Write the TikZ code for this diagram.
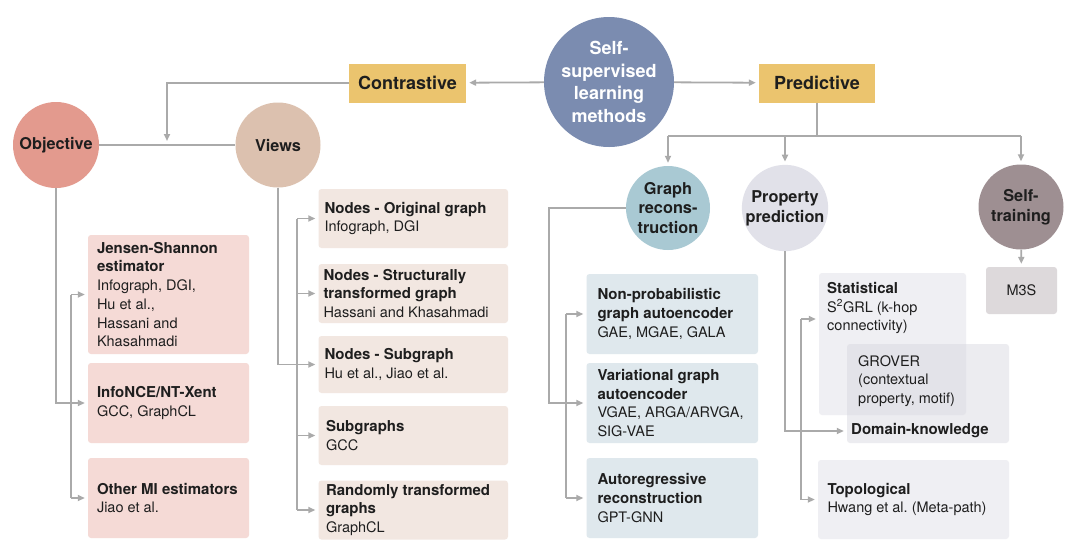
\documentclass[tikz,border=0pt]{standalone}
\usepackage{fontspec}
\setmainfont{TeX Gyre Heros}
\usetikzlibrary{arrows.meta}
\definecolor{sslc}{HTML}{7B8CB0}
\definecolor{topbox}{HTML}{EBC46E}
\definecolor{objc}{HTML}{E39A8E}
\definecolor{viewc}{HTML}{DCC1AF}
\definecolor{grc}{HTML}{A9C9D3}
\definecolor{ppc}{HTML}{E1E1E9}
\definecolor{stc}{HTML}{9E8F92}
\definecolor{objbox}{HTML}{F5DAD6}
\definecolor{viewbox}{HTML}{F2E7E1}
\definecolor{grbox}{HTML}{DFE8ED}
\definecolor{ppbox}{HTML}{EFEFF3}
\definecolor{grovbox}{HTML}{D6D6DE}
\definecolor{m3sbox}{HTML}{DDD9DB}
\definecolor{linec}{HTML}{AAAAAA}
\definecolor{txt}{HTML}{1E1E1E}
\newcommand\bhead[1]{{\fontsize{15}{18.7}\selectfont\bfseries #1}}
\frenchspacing
\begin{document}
\begin{tikzpicture}[x=1pt,y=-1pt,
  circ/.style={circle, inner sep=0pt, align=center, text=txt, font=\bfseries\fontsize{16.3}{19.8}\selectfont},
  topb/.style={rectangle, fill=topbox, minimum height=39pt, inner sep=0pt, text=txt, font=\bfseries\fontsize{18}{22}\selectfont},
  bx/.style={rectangle, rounded corners=3pt, inner sep=0pt},
  tx/.style={inner sep=0pt, align=left, text=txt, font=\frenchspacing\fontsize{14.5}{18.7}\selectfont},
  ln/.style={draw=linec, line width=1.8pt},
  arr/.style={ln, -{Triangle[length=7pt,width=6pt]}, shorten >=3pt}]
\useasboundingbox (0,0) rectangle (1080,542);
\fill[white] (0,0) rectangle (1080,542);

% top level
\node[circ, fill=sslc, minimum size=130pt, text=white, font=\bfseries\fontsize{18}{22.4}\selectfont] (ssl) at (609,82) {Self-\\supervised\\learning\\methods};
\node[topb, minimum width=117pt] (contr) at (407.5,83) {Contrastive};
\node[topb, minimum width=116pt] (pred) at (817,83) {Predictive};

% second level circles
\node[circ, fill=objc, minimum size=86pt] (obj) at (56,145) {Objective};
\node[circ, fill=viewc, minimum size=85pt] (views) at (278,145) {Views};
\node[circ, fill=grc, minimum size=84pt] (gr) at (668,208) {Graph\\recons-\\truction};
\node[circ, fill=ppc, minimum size=86pt] (pp) at (785,208) {Property\\prediction};
\node[circ, fill=stc, minimum size=85pt] (st) at (1021,207) {Self-\\training};

% objective boxes
\node[bx, fill=objbox, minimum width=161pt, minimum height=119pt] (js) at (168.5,294.5) {};
\node[tx, anchor=west] (jst) at ([xshift=9pt]js.west) {\bhead{Jensen-Shannon}\\\bhead{estimator}\\Infograph, DGI,\\Hu et al.,\\Hassani and\\Khasahmadi};
\node[bx, fill=objbox, minimum width=161pt, minimum height=80pt] (nce) at (168.5,403) {};
\node[tx, anchor=west] (ncet) at ([xshift=9pt]nce.west) {\bhead{InfoNCE/NT-Xent}\\GCC, GraphCL};
\node[bx, fill=objbox, minimum width=161pt, minimum height=80pt] (omi) at (168.5,498) {};
\node[tx, anchor=west] (omit) at ([xshift=9pt]omi.west) {\bhead{Other MI estimators}\\Jiao et al.};

% views boxes
\node[bx, fill=viewbox, minimum width=189.5pt, minimum height=59pt] (norig) at (413.25,218.5) {};
\node[tx, anchor=west] (norigt) at ([xshift=6pt]norig.west) {\bhead{Nodes - Original graph}\\Infograph, DGI};
\node[bx, fill=viewbox, minimum width=189.5pt, minimum height=59pt] (nstr) at (413.25,293.5) {};
\node[tx, anchor=west] (nstrt) at ([xshift=5pt]nstr.west) {\bhead{Nodes - Structurally}\\\bhead{transformed graph}\\Hassani and Khasahmadi};
\node[bx, fill=viewbox, minimum width=189.5pt, minimum height=57pt] (nsub) at (413.25,364.5) {};
\node[tx, anchor=west] (nsubt) at ([xshift=6pt]nsub.west) {\bhead{Nodes - Subgraph}\\Hu et al., Jiao et al.};
\node[bx, fill=viewbox, minimum width=189.5pt, minimum height=59pt] (subg) at (413.25,435.5) {};
\node[tx, anchor=west] (subgt) at ([xshift=7.5pt]subg.west) {\bhead{Subgraphs}\\GCC};
\node[bx, fill=viewbox, minimum width=189.5pt, minimum height=59pt] (rand) at (413.25,510) {};
\node[tx, anchor=west] (randt) at ([xshift=7.5pt]rand.west) {\bhead{Randomly transformed}\\\bhead{graphs}\\GraphCL};

% graph reconstruction boxes
\node[bx, fill=grbox, minimum width=171.5pt, minimum height=80pt] (np) at (672.25,314) {};
\node[tx, anchor=west] (npt) at ([xshift=11pt]np.west) {\bhead{Non-probabilistic}\\\bhead{graph autoencoder}\\GAE, MGAE, GALA};
\node[bx, fill=grbox, minimum width=171.5pt, minimum height=80pt] (vga) at (672.25,403) {};
\node[tx, anchor=west] (vgat) at ([xshift=11pt]vga.west) {\bhead{Variational graph}\\\bhead{autoencoder}\\VGAE, ARGA/ARVGA,\\SIG-VAE};
\node[bx, fill=grbox, minimum width=171.5pt, minimum height=80pt] (ar) at (672.25,498) {};
\node[tx, anchor=west] (art) at ([xshift=11pt]ar.west) {\bhead{Autoregressive}\\\bhead{reconstruction}\\GPT-GNN};

% property prediction boxes
\node[bx, fill=ppbox, minimum width=147pt, minimum height=142pt] (stat) at (892.5,344) {};
\node[bx, fill=grovbox, fill opacity=0.45, minimum width=162pt, minimum height=99pt] (grover) at (928,393.5) {};
\node[tx, anchor=north west] (statt) at (827,282) {\bhead{Statistical}\\S\textsuperscript{2}GRL (k-hop\\connectivity)};
\node[tx, anchor=north west] (grovt) at (858,355) {GROVER\\(contextual\\property, motif)};
\node[tx, anchor=west] (dkt) at (851,431) {\bhead{Domain-knowledge}};
\node[bx, fill=ppbox, minimum width=191pt, minimum height=79pt] (topo) at (913.5,499.5) {};
\node[tx, anchor=west] (topot) at ([xshift=9.5pt]topo.west) {\bhead{Topological}\\Hwang et al. (Meta-path)};

% self-training box
\node[bx, fill=m3sbox, minimum width=71pt, minimum height=47pt, text=txt, font=\fontsize{14.5}{18.7}\selectfont] (m3s) at (1021.5,290.5) {M3S};

% connectors: top
\coordinate (j1) at (167,144);
\draw[arr] (ssl) -- (contr);
\draw[arr] (ssl) -- (pred);
\draw[arr] (contr.west) -| (j1);
\draw[ln] (obj) -- (views);

% objective
\coordinate (ob) at (71,0);
\draw[arr] (obj.south) |- (nce.west);
\draw[ln] (ob |- js.west) -- (ob |- omi.west);
\draw[arr] (ob |- js.west) -- (js.west);
\draw[arr] (ob |- omi.west) -- (omi.west);

% views
\coordinate (vb) at (297,0);
\draw[arr] (views.south) |- (nsub.west);
\draw[ln] (vb |- norig.west) -- (vb |- rand.west);
\draw[arr] (vb |- norig.west) -- (norig.west);
\draw[arr] (vb |- nstr.west) -- (nstr.west);
\draw[arr] (vb |- subg.west) -- (subg.west);
\draw[arr] (vb |- rand.west) -- (rand.west);

% predictive
\coordinate (pj) at (817,136);
\draw[ln] (pred.south) -- (pj);
\draw[ln] (gr |- pj) -- (st |- pj);
\draw[arr] (gr |- pj) -- (gr.north);
\draw[arr] (pp |- pj) -- (pp.north);
\draw[arr] (st |- pj) -- (st.north);
\draw[arr] (st) -- (m3s);

% graph reconstruction
\coordinate (gl) at (549,0);
\coordinate (gb) at (566,0);
\draw[arr] (gr.west) -- (gl |- gr.west) -- (gl |- vga.west) -- (vga.west);
\draw[ln] (gb |- np.west) -- (gb |- ar.west);
\draw[arr] (gb |- np.west) -- (np.west);
\draw[arr] (gb |- ar.west) -- (ar.west);

% property prediction
\coordinate (pb) at (801,0);
\coordinate (sy) at (0,319);
\draw[arr] (pp.south) |- (grover.west |- dkt.west);
\draw[ln] (pb |- sy) -- (pb |- topo.west);
\draw[arr] (pb |- sy) -- (stat.west |- sy);
\draw[arr] (pb |- topo.west) -- (topo.west);
\end{tikzpicture}
\end{document}
